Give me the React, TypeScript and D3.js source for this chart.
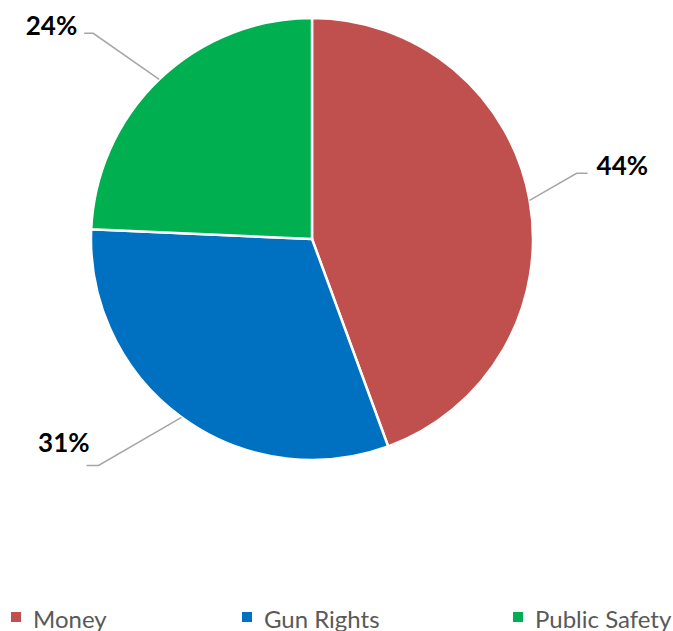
import React from 'react';
import * as d3 from 'd3';

// Slice data
const categories: string[] = ['Money', 'Gun Rights', 'Public Safety'];
const shares: number[] = [44.4, 31.3, 24.3];
const colors: string[] = ['#C0504D', '#0070C0', '#00B050'];

// Leader line / label layout per slice: bend offset from the arc edge,
// horizontal stub length (signed), text offset from stub end
const labelLayout = [
    { bend: [47, -27], stub: 11, text: [9, 2], anchor: 'start' },
    { bend: [-83, 48], stub: -12, text: [3, -13], anchor: 'end' },
    { bend: [-66, -46], stub: -9, text: [-7, 2], anchor: 'end' },
];

// Legend item x positions
const legendX: number[] = [11, 242, 513];

const width = 673;
const height = 631;
const cx = 312;
const cy = 239;
const radius = 221;

const App: React.FC = () => {
    const pie = d3.pie<number>().sort(null).value(d => d);
    const arcs = pie(shares);

    const arc = d3.arc<d3.PieArcDatum<number>>()
        .innerRadius(0)
        .outerRadius(radius);

    return (
        <svg
            width={width}
            height={height}
            style={{ position: 'absolute', left: 0, top: 0 }}
        >
            <g transform={`translate(${cx},${cy})`}>
                {arcs.map((a, i) => (
                    <path
                        key={categories[i]}
                        d={arc(a) || ''}
                        fill={colors[i]}
                        stroke="#ffffff"
                        strokeWidth={2.5}
                        strokeLinejoin="round"
                    />
                ))}

                {arcs.map((a, i) => {
                    const mid = (a.startAngle + a.endAngle) / 2;
                    const ex = radius * Math.sin(mid);
                    const ey = -radius * Math.cos(mid);
                    const l = labelLayout[i];
                    const bx = ex + l.bend[0];
                    const by = ey + l.bend[1];
                    const sx = bx + l.stub;
                    const pct = Math.round((a.value / d3.sum(shares)) * 100);
                    return (
                        <g key={`label-${i}`}>
                            <polyline
                                points={`${ex},${ey} ${bx},${by} ${sx},${by}`}
                                fill="none"
                                stroke="#A6A6A6"
                                strokeWidth={1.5}
                            />
                            <text
                                x={sx + l.text[0]}
                                y={by + l.text[1]}
                                textAnchor={l.anchor as any}
                                fontFamily="Lato, sans-serif"
                                fontWeight="bold"
                                fontSize={26}
                                fill="#000000"
                            >
                                {pct}%
                            </text>
                        </g>
                    );
                })}
            </g>

            {/* Legend */}
            {categories.map((c, i) => (
                <g key={`legend-${c}`} transform={`translate(${legendX[i]},0)`}>
                    <rect x={0} y={612} width={10} height={10} fill={colors[i]} />
                    <text
                        x={22}
                        y={628}
                        fontFamily="Lato, sans-serif"
                        fontSize={24}
                        fill="#595959"
                    >
                        {c}
                    </text>
                </g>
            ))}
        </svg>
    );
};

export default App;
